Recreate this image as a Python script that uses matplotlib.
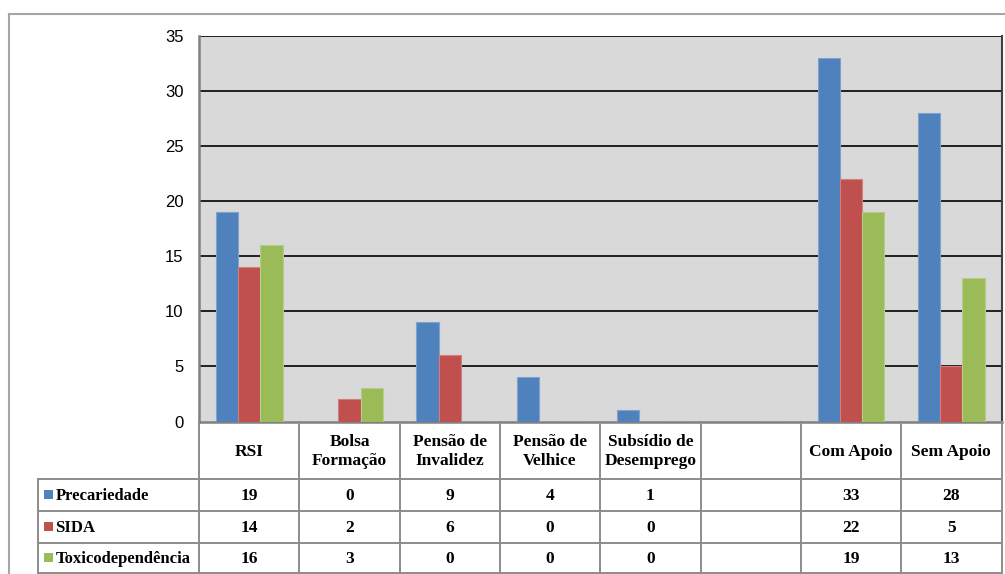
import matplotlib
matplotlib.use("Agg")
import matplotlib.pyplot as plt
import numpy as np
from matplotlib.lines import Line2D
from matplotlib.patches import Rectangle

categories = ["RSI", "Bolsa\nFormação", "Pensão de\nInvalidez", "Pensão de\nVelhice",
              "Subsídio de\nDesemprego", "", "Com Apoio", "Sem Apoio"]
series_names = ["Precariedade", "SIDA", "Toxicodependência"]
precariedade = [19, 0, 9, 4, 1, None, 33, 28]
sida = [14, 2, 6, 0, 0, None, 22, 5]
toxicodependencia = [16, 3, 0, 0, 0, None, 19, 13]
series_values = [precariedade, sida, toxicodependencia]
yticks = [0, 5, 10, 15, 20, 25, 30, 35]

colors = ["#4F81BD", "#C0504D", "#9BBB59"]
edges = ["#7FA2CF", "#D27F7D", "#B5CD85"]

W, H = 1005, 574
fig = plt.figure(figsize=(W / 100, H / 100), dpi=100)

# pixel geometry
L, R, T, B = 199, 1001.5, 36, 421.5
ax = fig.add_axes([L / W, 1 - B / H, (R - L) / W, (B - T) / H])
ax.set_facecolor("#D9D9D9")
n = len(categories)
x = np.arange(n)
bw = 0.222
for i, (vals, c, e) in enumerate(zip(series_values, colors, edges)):
    h = [v if v is not None else 0 for v in vals]
    ax.bar(x + (i - 1) * bw, h, width=bw, color=c, edgecolor=e, linewidth=0.8, zorder=3)
ax.set_xlim(-0.5, n - 0.5)
ax.set_ylim(0, 35)
ax.set_yticks(yticks)
ax.set_yticklabels([str(t) for t in yticks], fontsize=12, family="Liberation Sans")
ax.tick_params(axis="y", length=0, pad=11)
ax.set_xticks([])
for t in yticks[1:]:
    ax.axhline(t, color="black", linewidth=1.2, zorder=2)
for s in ["left", "bottom"]:
    ax.spines[s].set_color("#808080")
    ax.spines[s].set_linewidth(1.8)
ax.spines["right"].set_color("#404040")
ax.spines["right"].set_linewidth(1.5)
ax.spines["top"].set_visible(False)

# overlay in pixel coords
ov = fig.add_axes([0, 0, 1, 1], facecolor="none")
ov.set_xlim(0, W)
ov.set_ylim(H, 0)
ov.axis("off")

gray = "#8C8C8C"
# outer chart frame
ov.add_line(Line2D([9, 9], [14, H], color="#A6A6A6", lw=1.5))
ov.add_line(Line2D([9, W], [14, 14], color="#A6A6A6", lw=1.5))

colw = (R - L) / n
bounds = [L + k * colw for k in range(n + 1)]
header_top, header_bot = B, 478.5
rows = [478.5, 510.5, 542.5, 573.0]
leg_left = 38

for bx in bounds:
    ov.add_line(Line2D([bx, bx], [header_top, rows[-1]], color=gray, lw=1.4))
ov.add_line(Line2D([leg_left, leg_left], [rows[0], rows[-1]], color=gray, lw=1.4))
for ry in rows:
    ov.add_line(Line2D([leg_left, R], [ry, ry], color=gray, lw=1.4))

tf = dict(family="Liberation Serif", fontweight="bold", fontsize=12.5, color="black")
for k, cat in enumerate(categories):
    cx = (bounds[k] + bounds[k + 1]) / 2
    ov.text(cx, (header_top + header_bot) / 2 + 1.5, cat, ha="center", va="center",
            linespacing=1.3, **tf)
    for r, vals in enumerate(series_values):
        v = vals[k]
        if v is None:
            continue
        cy = (rows[r] + rows[r + 1]) / 2 + 1
        ov.text(cx, cy, str(v), ha="center", va="center", **tf)

lf = dict(tf)
lf["fontsize"] = 12
for r, (name, c) in enumerate(zip(series_names, colors)):
    cy = (rows[r] + rows[r + 1]) / 2
    ov.add_patch(Rectangle((44, cy - 4.5), 8.5, 8.5, facecolor=c, edgecolor="none"))
    ov.text(55.5, cy + 1, name, ha="left", va="center", **lf)

fig.savefig("out.png", dpi=100)
